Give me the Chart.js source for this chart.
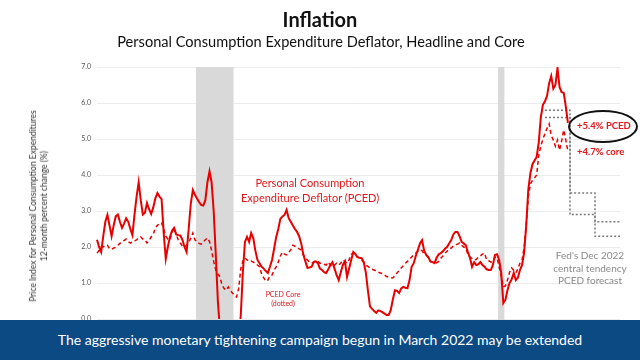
<!DOCTYPE html>
<html><head><meta charset="utf-8">
<script src="https://cdn.jsdelivr.net/npm/chart.js@4.4.0/dist/chart.umd.min.js"></script>
<style>
html,body{margin:0;padding:0;background:#fff;}
#wrap{position:relative;width:640px;height:360px;overflow:hidden;font-family:Lato,"Open Sans",sans-serif;}
#c{position:absolute;left:0;top:0;}
.t{position:absolute;white-space:nowrap;line-height:1;}
#title{left:320px;top:9px;transform:translateX(-50%);font-size:20px;font-weight:bold;color:#111;}
#subtitle{left:321px;top:35px;transform:translateX(-50%);font-size:14.6px;color:#111;}
#ytitle{left:39px;top:206px;transform:translate(-50%,-50%) rotate(-90deg);font-size:8.5px;color:#333;text-align:center;line-height:11px;}
#pced{left:310px;top:175px;transform:translateX(-50%);font-size:11px;color:#e3161b;text-align:center;line-height:15px;}
#corelab{left:283px;top:290px;transform:translateX(-50%);font-size:7px;color:#e3161b;text-align:center;line-height:8.5px;}
#lab54{left:577px;top:121px;font-size:9.5px;font-weight:bold;color:#e3161b;}
#lab47{left:577px;top:147px;font-size:9.5px;font-weight:bold;color:#e3161b;}
#ell{position:absolute;left:568px;top:110px;width:66px;height:29px;border:2px solid #111;border-radius:50%;}
#fed{left:590px;top:249px;transform:translateX(-50%);font-size:10px;color:#8a8a8a;text-align:center;line-height:12.5px;}
#banner{position:absolute;left:0;top:320px;width:640px;height:40px;background:#0c4a84;color:#fff;font-size:14px;text-align:center;line-height:40px;}
</style></head><body>
<div id="wrap">
<canvas id="c" width="640" height="360"></canvas>
<div class="t" id="title">Inflation</div>
<div class="t" id="subtitle">Personal Consumption Expenditure Deflator, Headline and Core</div>
<div class="t" id="ytitle">Price Index for Personal Consumption Expenditures<br>12-month percent change (%)</div>
<div class="t" id="pced">Personal Consumption<br>Expenditure Deflator (PCED)</div>
<div class="t" id="corelab">PCED Core<br>(dotted)</div>
<div id="ell"></div>
<div class="t" id="lab54">+5.4% PCED</div>
<div class="t" id="lab47">+4.7% core</div>
<div class="t" id="fed">Fed's Dec 2022<br>central tendency<br>PCED forecast</div>
<div id="banner">The aggressive monetary tightening campaign begun in March 2022 may be extended</div>
</div>
<script>
// Monthly categories Jan 2004 .. Dec 2024
const monthNames = ['Jan','Feb','Mar','Apr','May','Jun','Jul','Aug','Sep','Oct','Nov','Dec'];
const years = [2004,2005,2006,2007,2008,2009,2010,2011,2012,2013,2014,2015,2016,2017,2018,2019,2020,2021,2022,2023,2024];
const months = [];
years.forEach(y => monthNames.forEach(m => months.push(m + ' ' + y)));

// Headline PCE deflator, y/y % (Jan 2004 .. Nov 2022)
const pced = [
 2.2,2.0,1.86,2.3,2.7,2.89,2.6,2.3,2.6,2.85,2.9,2.7,
 2.53,2.65,2.8,2.7,2.5,2.33,2.9,3.4,3.8,3.3,2.9,2.95,
 3.22,3.05,2.92,3.1,3.35,3.5,3.4,3.33,2.4,1.67,2.0,2.28,
 2.45,2.53,2.35,2.33,2.32,2.2,2.0,1.86,2.5,3.2,3.58,3.45,
 3.35,3.25,3.17,3.15,3.3,3.8,4.1,3.8,3.0,1.8,0.5,-0.3,
 -0.2,-0.4,-0.5,-0.7,-0.8,-1.0,-1.3,-1.0,-0.6,0.1,1.3,2.14,
 2.28,2.14,2.39,2.25,1.9,1.64,1.55,1.45,1.4,1.33,1.28,1.45,
 1.64,1.95,2.28,2.5,2.78,2.85,2.89,3.03,2.8,2.7,2.6,2.5,
 2.42,2.3,2.1,1.8,1.6,1.42,1.43,1.45,1.58,1.6,1.55,1.4,
 1.36,1.3,1.28,1.38,1.5,1.58,1.4,1.22,1.08,1.3,1.5,1.6,
 1.17,1.4,1.64,1.86,1.8,1.72,1.7,1.69,1.58,1.3,0.8,0.35,
 0.28,0.22,0.17,0.24,0.22,0.19,0.15,0.11,0.11,0.25,0.55,0.8,
 0.78,0.72,0.85,0.89,0.87,0.86,1.08,1.45,1.55,1.75,1.92,2.1,
 2.19,1.9,1.78,1.72,1.6,1.58,1.55,1.7,1.8,1.83,1.88,1.95,
 2.0,2.1,2.19,2.35,2.42,2.42,2.3,2.14,2.1,2.05,1.86,1.7,
 1.45,1.58,1.5,1.52,1.58,1.5,1.45,1.38,1.36,1.36,1.5,1.78,
 1.8,1.64,1.28,0.44,0.53,0.8,1.0,1.1,1.28,1.08,1.15,1.36,
 1.5,1.85,2.6,3.6,4.05,4.3,4.4,4.5,4.9,5.6,5.95,6.05,
 6.2,6.55,6.75,6.4,6.5,6.97,6.44,6.3,6.28,5.9,5.45
];
// Core PCE deflator, y/y % (Jan 2004 .. Nov 2022)
const core = [
 1.83,1.9,2.0,2.0,2.05,2.05,1.95,1.94,1.97,2.0,2.05,2.1,
 2.15,2.18,2.22,2.15,2.11,2.14,2.17,2.2,2.25,2.28,2.22,2.2,
 2.11,2.18,2.28,2.35,2.53,2.6,2.65,2.67,2.5,2.3,2.22,2.19,
 2.4,2.53,2.35,2.2,2.11,2.02,2.0,2.05,2.12,2.25,2.39,2.2,
 2.14,2.1,2.08,2.14,2.2,2.25,2.15,1.9,1.6,1.36,1.25,1.17,
 0.95,0.85,0.8,0.89,0.8,0.72,0.65,0.61,0.85,1.4,1.6,1.7,
 1.64,1.6,1.61,1.58,1.55,1.5,1.45,1.25,1.15,1.05,1.08,1.2,
 1.22,1.36,1.45,1.58,1.75,1.86,1.8,1.78,1.85,1.92,2.05,2.02,
 2.0,1.95,1.92,1.78,1.7,1.64,1.58,1.55,1.58,1.62,1.6,1.55,
 1.55,1.52,1.5,1.58,1.5,1.45,1.5,1.55,1.5,1.55,1.64,1.6,
 1.55,1.65,1.8,1.83,1.75,1.72,1.7,1.64,1.58,1.5,1.46,1.42,
 1.38,1.36,1.33,1.3,1.28,1.26,1.22,1.18,1.16,1.15,1.14,1.2,
 1.28,1.35,1.42,1.48,1.55,1.6,1.66,1.72,1.78,1.83,1.88,1.92,
 1.9,1.8,1.78,1.7,1.6,1.58,1.55,1.56,1.6,1.69,1.75,1.83,
 1.88,1.95,1.97,2.03,2.05,2.08,2.11,2.05,2.0,1.97,1.8,1.72,
 1.68,1.64,1.65,1.72,1.75,1.8,1.83,1.64,1.62,1.58,1.6,1.72,
 1.7,1.45,1.2,0.89,0.92,1.08,1.3,1.42,1.35,1.28,1.4,1.55,
 1.64,2.0,2.6,3.4,3.75,3.85,3.92,4.0,4.55,4.8,5.0,5.15,
 5.3,5.42,5.1,4.97,4.8,4.97,4.69,4.95,5.25,4.97,4.65
];
// Fed Dec 2022 central tendency (PCE): 2022, 2023, 2024
const fcStart = ['Dec 2021','Dec 2022','Dec 2023','Dec 2024'];
const fcHigh = [5.8, 3.5, 2.7];
const fcLow = [5.6, 2.9, 2.3];
// Recession shading
const recessions = [['Jan 2008','Jun 2009'],['Feb 2020','Apr 2020']];
const yTicks = [0,1,2,3,4,5,6,7];

// step line points: value i holds from fcStart[i] to fcStart[i+1] (horizontal-first steps)
const stepPts = vals => fcStart.map((m,i) => ({x: m, y: vals[Math.min(i, vals.length - 1)]}));

const recessionPlugin = {
  id: 'recessions',
  beforeDatasetsDraw(chart) {
    const {ctx, chartArea, scales:{x}} = chart;
    ctx.save();
    ctx.fillStyle = '#d9d9d9';
    recessions.forEach(([a,b]) => {
      const x0 = x.getPixelForValue(months.indexOf(a) - 0.5);
      const x1 = x.getPixelForValue(months.indexOf(b) + 0.5);
      ctx.fillRect(x0, chartArea.top, x1 - x0, chartArea.bottom - chartArea.top + 30);
    });
    ctx.restore();
  }
};

const RED = 'rgb(232,0,0)';
new Chart(document.getElementById('c'), {
  type: 'line',
  data: {
    labels: months,
    datasets: [
      {data: pced, borderColor: RED, borderWidth: 2, pointRadius: 0, tension: 0, order: 1},
      {data: core, borderColor: RED, borderWidth: 1.5, borderDash: [4,3], pointRadius: 0, tension: 0, order: 2},
      {data: stepPts(fcHigh), borderColor: '#7a7a7a', borderWidth: 1.5, borderDash: [2,2], pointRadius: 0, stepped: 'before', order: 3},
      {data: stepPts(fcLow), borderColor: '#7a7a7a', borderWidth: 1.5, borderDash: [2,2], pointRadius: 0, stepped: 'before', order: 3}
    ]
  },
  options: {
    responsive: false,
    animation: false,
    layout: {padding: {top: 67, right: 20, bottom: 41, left: 0}},
    plugins: {legend: {display: false}, tooltip: {enabled: false}, title: {display: false}},
    scales: {
      x: {type: 'category', display: false, offset: false},
      y: {
        min: 0, max: 7,
        afterFit(s) { s.width = 97; },
        afterBuildTicks(s) { s.ticks = yTicks.map(v => ({value: v})); },
        grid: {color: '#ececec', drawTicks: false},
        border: {display: false},
        ticks: {padding: 6, color: '#555', font: {family: 'Lato', size: 7}, callback: v => v.toFixed(1)}
      }
    }
  },
  plugins: [recessionPlugin]
});
</script>
</body></html>
